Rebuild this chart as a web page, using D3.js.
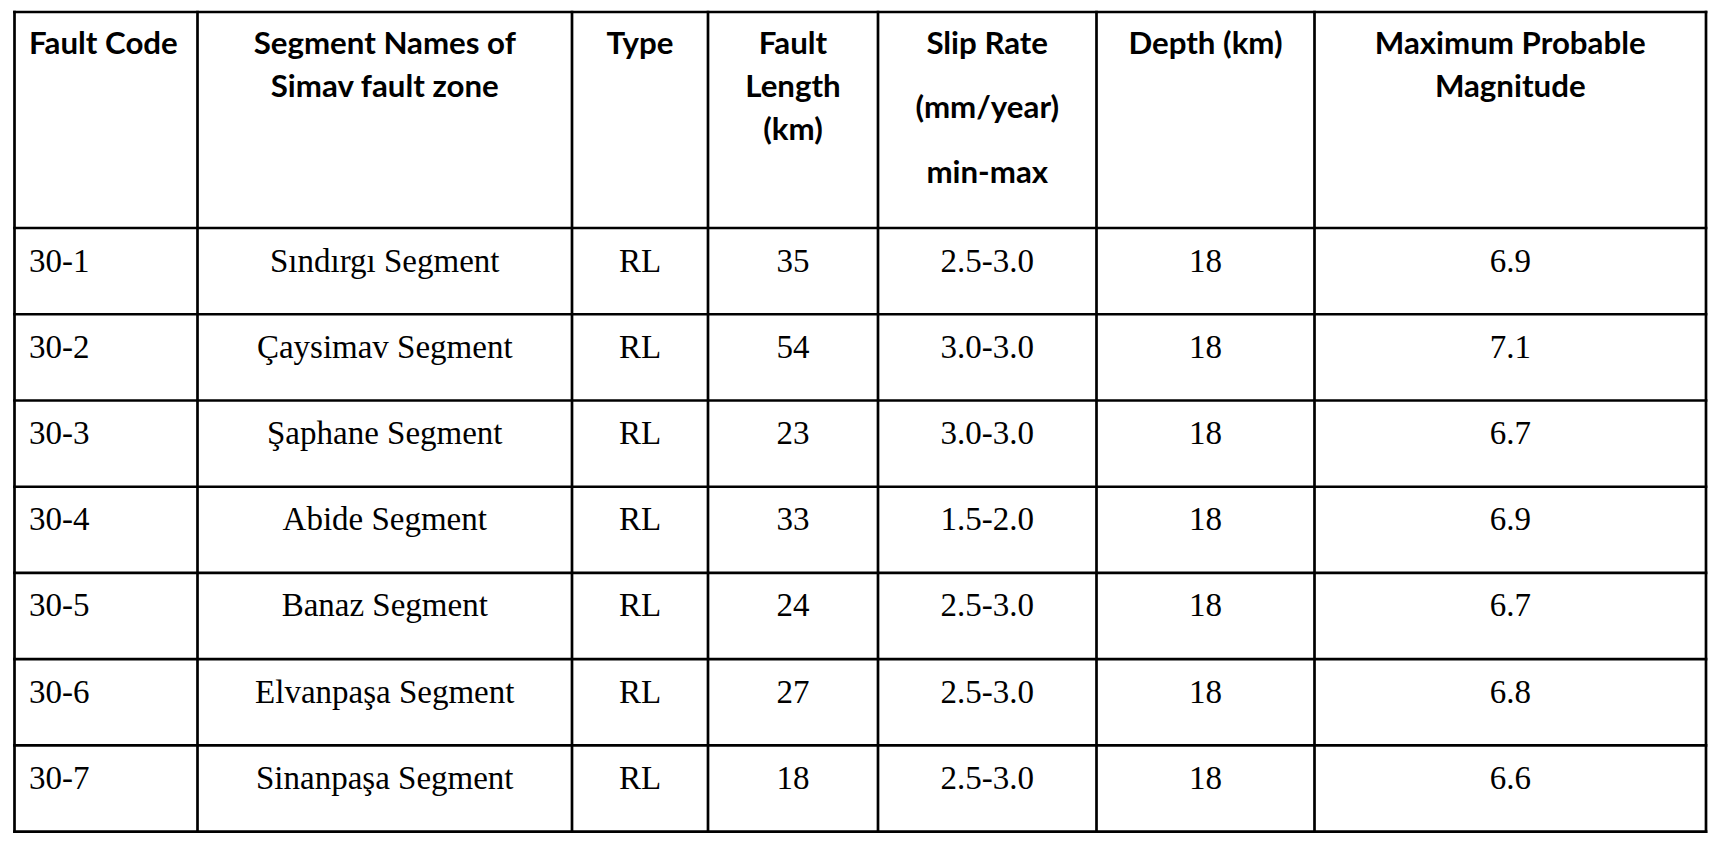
<!DOCTYPE html>
<html>
<head>
<meta charset="utf-8">
<script src="https://cdn.jsdelivr.net/npm/d3@7"></script>
<style>
  body { margin: 0; background: #fff; }
</style>
</head>
<body>
<svg id="table"></svg>
<script>
// table contents
const headers = [
  ["Fault Code"],
  ["Segment Names of", "Simav fault zone"],
  ["Type"],
  ["Fault", "Length", "(km)"],
  ["Slip Rate", "(mm/year)", "min-max"],
  ["Depth (km)"],
  ["Maximum Probable", "Magnitude"]
];
const codes = ["30-1", "30-2", "30-3", "30-4", "30-5", "30-6", "30-7"];
const segments = ["Sındırgı Segment", "Çaysimav Segment", "Şaphane Segment", "Abide Segment",
                  "Banaz Segment", "Elvanpaşa Segment", "Sinanpaşa Segment"];
const types = ["RL", "RL", "RL", "RL", "RL", "RL", "RL"];
const lengths = [35, 54, 23, 33, 24, 27, 18];
const slipRates = ["2.5-3.0", "3.0-3.0", "3.0-3.0", "1.5-2.0", "2.5-3.0", "2.5-3.0", "2.5-3.0"];
const depths = [18, 18, 18, 18, 18, 18, 18];
const magnitudes = ["6.9", "7.1", "6.7", "6.9", "6.7", "6.8", "6.6"];

const columns = [codes, segments, types, lengths, slipRates, depths, magnitudes];

// layout
const width = 1724, height = 848;
const colEdges = [14.5, 197.5, 572, 708, 878, 1096.5, 1314.5, 1706];
const headerTop = 12, headerBottom = 228, tableBottom = 831.7;
const headLineGap = [43, 43, 43, 43, 64.5, 43, 43];
const headFont = "Lato, 'Open Sans', sans-serif";
const bodyFont = "'Liberation Serif', 'Times New Roman', serif";
const lineW = 2.7;

const svg = d3.select("#table")
  .attr("width", width)
  .attr("height", height);

svg.append("rect").attr("width", width).attr("height", height).attr("fill", "#fff");

const y = d3.scaleBand()
  .domain(codes)
  .range([headerBottom, tableBottom]);

const colX = i => (colEdges[i] + colEdges[i + 1]) / 2;

// header font sized to the original bold sans widths
const probe = svg.append("text")
  .attr("font-family", headFont).attr("font-weight", 700).attr("font-size", 33)
  .text("Maximum Probable");
const headSize = 33 * 271 / probe.node().getComputedTextLength();
probe.remove();

// header cells
const head = svg.append("g");
headers.forEach(function (lines, i) {
  const t = head.append("text")
    .attr("font-family", headFont)
    .attr("font-weight", 700)
    .attr("font-size", headSize)
    .attr("fill", "#000")
    .attr("text-anchor", i == 0 ? "start" : "middle");
  t.selectAll("tspan")
    .data(lines)
    .enter()
    .append("tspan")
    .attr("x", i == 0 ? colEdges[0] + 14.5 : colX(i))
    .attr("y", (d, k) => headerTop + 41.5 + k * headLineGap[i])
    .text(d => d);
});

// body cells
const body = svg.append("g");
columns.forEach(function (col, i) {
  body.selectAll(null)
    .data(col)
    .enter()
    .append("text")
    .attr("font-family", bodyFont)
    .attr("font-size", 33)
    .attr("fill", "#000")
    .attr("text-anchor", i == 0 ? "start" : "middle")
    .attr("x", i == 0 ? colEdges[0] + 14.5 : colX(i))
    .attr("y", (d, k) => y(codes[k]) + 43.5)
    .text(d => d);
});

// grid lines
const rowLines = [headerTop, headerBottom].concat(codes.map(c => y(c) + y.bandwidth()));
const grid = svg.append("g")
  .attr("stroke", "#000")
  .attr("stroke-width", lineW)
  .attr("stroke-linecap", "square");

grid.selectAll(".h")
  .data(rowLines)
  .enter()
  .append("line")
  .attr("x1", colEdges[0]).attr("x2", colEdges[colEdges.length - 1])
  .attr("y1", d => d).attr("y2", d => d);

grid.selectAll(".v")
  .data(colEdges)
  .enter()
  .append("line")
  .attr("x1", d => d).attr("x2", d => d)
  .attr("y1", headerTop).attr("y2", tableBottom);
</script>
</body>
</html>
